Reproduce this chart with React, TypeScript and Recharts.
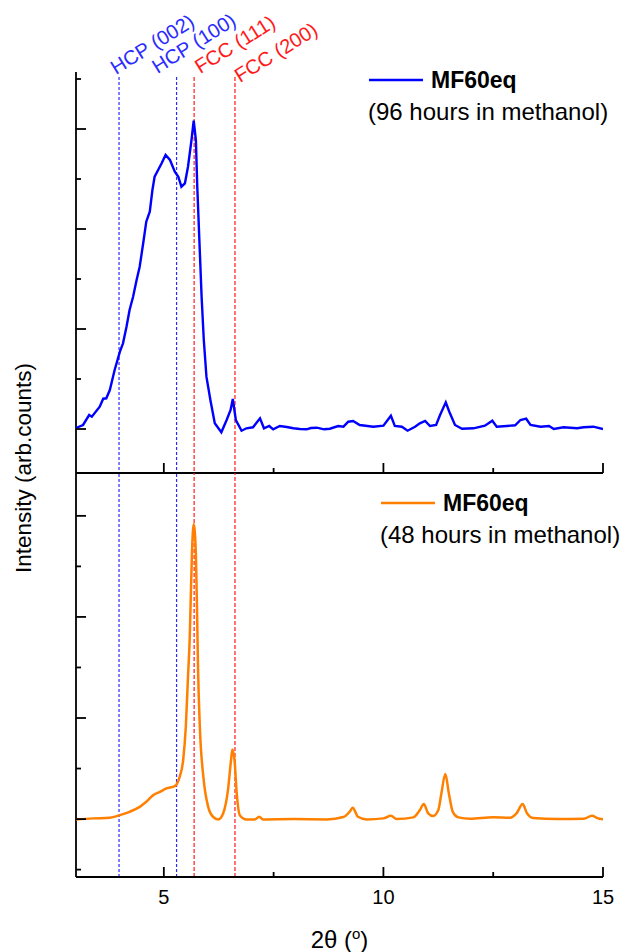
import React from 'react';
import { LineChart, Line, XAxis, YAxis, ReferenceLine, Legend } from 'recharts';

// 2θ positions and intensities, sample soaked 96 h
const angle96 = [
  3.0, 3.16, 3.3, 3.36, 3.54, 3.62, 3.69, 3.77, 3.88, 4.0, 4.07, 4.15, 4.22, 4.3, 4.38, 4.45,
  4.53, 4.6, 4.68, 4.74, 4.79, 4.87, 4.95, 5.04, 5.14, 5.25, 5.33, 5.4, 5.48, 5.55, 5.63, 5.68,
  5.73, 5.76, 5.8, 5.86, 5.91, 5.97, 6.06, 6.16, 6.31, 6.43, 6.52, 6.57, 6.64, 6.77, 6.88, 7.03,
  7.19, 7.28, 7.4, 7.49, 7.64, 7.8, 7.95, 8.1, 8.25, 8.35, 8.48, 8.65, 8.78, 8.97, 9.09, 9.2,
  9.31, 9.46, 9.77, 10.0, 10.17, 10.26, 10.42, 10.55, 10.72, 10.83, 10.95, 11.06, 11.2, 11.29,
  11.42, 11.5, 11.63, 11.79, 12.05, 12.31, 12.48, 12.58, 12.81, 13.0, 13.12, 13.25, 13.35, 13.58,
  13.77, 13.88, 14.1, 14.41, 14.56, 14.78, 15.0,
];
const counts96 = [
  1010, 1040, 1140, 1123, 1223, 1303, 1307, 1390, 1590, 1773, 1857, 2023, 2190, 2323, 2490, 2623,
  2857, 3073, 3173, 3390, 3523, 3590, 3657, 3740, 3690, 3573, 3523, 3423, 3457, 3623, 3890, 4083,
  3890, 3440, 2990, 2323, 1890, 1523, 1290, 1057, 967, 1090, 1190, 1300, 1090, 983, 1007, 1017,
  1107, 1007, 1030, 997, 1030, 1020, 1007, 1000, 997, 1010, 1013, 997, 1003, 1030, 1023, 1073,
  1080, 1040, 1023, 1033, 1133, 1030, 1023, 983, 1023, 1057, 1080, 1030, 1040, 1140,
  1267, 1173, 1040, 1003, 1007, 1033, 1083, 1023, 1030, 1037, 1090, 1103, 1040, 1023,
  1030, 1000, 1017, 1007, 1017, 1023, 1000,
];

// 2θ positions and intensities, sample soaked 48 h
const angle48 = [
  3.0, 3.39, 3.77, 4.0, 4.22, 4.45, 4.6, 4.76, 4.91, 5.06, 5.25, 5.36, 5.44, 5.5, 5.55, 5.59,
  5.61, 5.64, 5.68, 5.73, 5.76, 5.78, 5.82, 5.9, 6.01, 6.12, 6.24, 6.35, 6.46, 6.53, 6.56, 6.61,
  6.66, 6.73, 6.88, 7.07, 7.17, 7.26, 7.95, 8.71, 9.09, 9.23, 9.3, 9.42, 9.62, 10.0, 10.17, 10.3,
  10.68, 10.83, 10.92, 11.02, 11.13, 11.25, 11.32, 11.41, 11.49, 11.58, 11.71, 11.97, 12.5, 12.88,
  13.03, 13.17, 13.27, 13.41, 13.95, 14.56, 14.75, 14.87, 15.0,
];
const counts48 = [
  997, 1007, 1013, 1039, 1072, 1121, 1171, 1237, 1269, 1303, 1326, 1418, 1582, 1911, 2404, 2800,
  3132, 3625, 3918, 3625, 2964, 2471, 1911, 1418, 1121, 1023, 997, 1056, 1286, 1582, 1688, 1582,
  1254, 1039, 997, 997, 1023, 997, 1000, 997, 1020, 1072, 1112, 1023, 997, 1007, 1033, 1000,
  1017, 1089, 1148, 1056, 1030, 1089, 1254, 1447, 1254, 1072, 1017, 1003, 1017, 1013,
  1056, 1148, 1056, 1010, 1000, 1003, 1033, 1010, 997,
];

const sampleName = 'MF60eq';
const soakNotes = ['(96 hours in methanol)', '(48 hours in methanol)'];

const phaseNames = ['HCP (002)', 'HCP (100)', 'FCC (111)', 'FCC (200)'];
const phaseAngles = [3.98, 5.29, 5.69, 6.62];

const xTicks = [5, 7.5, 10, 12.5, 15];
const topTicks = [1000, 1500, 2000, 2500, 3000, 3500, 4000, 4500];
const bottomTicks = [500, 1000, 1500, 2000, 2500, 3000, 3500, 4000];

const FONT = '"Liberation Sans", Arial, Helvetica, sans-serif';
const phaseColors = ['#2b2bff', '#2b2bff', '#ff1a1a', '#ff1a1a'];
const phaseDash = ['3 2', '3 2', '4 2', '4 2'];
// where each rotated label starts, relative to the top of its guide line
const labelShift = [[-3, -2], [-19, -3], [6, -3], [5, 6]];

const data96 = angle96.map((a, i) => ({ angle: a, counts: counts96[i] }));
const data48 = angle48.map((a, i) => ({ angle: a, counts: counts48[i] }));

const XTick = (props: any) => {
  const { x, y, payload, showLabel } = props;
  const major = payload.value % 5 === 0;
  return (
    <g>
      <line x1={x} x2={x} y1={y} y2={y - (major ? 10 : 5)} stroke="#000" strokeWidth={1.8} />
      {showLabel && major && (
        <text x={x} y={y + 27} textAnchor="middle" fontSize={20} fontFamily={FONT} fill="#000">
          {payload.value}
        </text>
      )}
    </g>
  );
};

const YTick = (props: any) => {
  const { x, y, payload } = props;
  const major = payload.value % 1000 === 0;
  return <line x1={x} x2={x + (major ? 10 : 5)} y1={y} y2={y} stroke="#000" strokeWidth={1.8} />;
};

const legendBox = (note: string) => (props: any) => {
  const item = props.payload?.[0];
  return (
    <svg width={265} height={70} style={{ overflow: 'visible' }}>
      <line x1={4} x2={58} y1={20} y2={20} stroke={item?.color} strokeWidth={2.4} />
      <text x={66} y={28} fontSize={23} fontWeight="bold" fontFamily={FONT} fill="#000">
        {item?.value}
      </text>
      <text x={3} y={60} fontSize={24} fontFamily={FONT} fill="#000">
        {note}
      </text>
    </svg>
  );
};

const phaseLabel = (i: number) => (props: any) => {
  const vb = props.viewBox || {};
  const tx = vb.x + labelShift[i][0];
  const ty = vb.y + labelShift[i][1];
  return (
    <text
      x={tx}
      y={ty}
      transform={`rotate(-32 ${tx} ${ty})`}
      fontSize={20}
      fontFamily={FONT}
      fill={phaseColors[i]}
    >
      {phaseNames[i]}
    </text>
  );
};

const yTitle = () => (
  <text
    x={31}
    y={468}
    transform="rotate(-90 31 468)"
    textAnchor="middle"
    fontSize={22.5}
    fontFamily={FONT}
    fill="#000"
  >
    Intensity (arb.counts)
  </text>
);

const xTitle = (props: any) => {
  const vb = props.viewBox || {};
  const cx = vb.x + vb.width / 2;
  return (
    <text x={cx} y={vb.y + 71} textAnchor="middle" fontSize={24} fontFamily={FONT} fill="#000">
      <tspan>2θ (</tspan>
      <tspan dy={-9} fontSize={15}>o</tspan>
      <tspan dy={9}>)</tspan>
    </text>
  );
};

const axisLine = { stroke: '#000', strokeWidth: 1.8 };

export default function App() {
  return (
    <div style={{ position: 'absolute', left: 0, top: 0, width: 630, height: 952, background: '#fff' }}>
      <div style={{ position: 'absolute', left: 0, top: 0 }}>
        <LineChart width={630} height={480} data={data96} margin={{ top: 72, right: 27, bottom: 0, left: 0 }}>
          <XAxis
            dataKey="angle"
            type="number"
            domain={[3, 15]}
            ticks={xTicks}
            height={7}
            tickSize={0}
            tickMargin={0}
            tickLine={false}
            axisLine={axisLine}
            tick={(p: any) => <XTick {...p} />}
            allowDataOverflow
          />
          <YAxis
            type="number"
            domain={[560, 4570]}
            ticks={topTicks}
            width={76}
            tickSize={0}
            tickMargin={0}
            tickLine={false}
            axisLine={axisLine}
            tick={(p: any) => <YTick {...p} />}
            allowDataOverflow
          />
          {phaseAngles.map((a, i) => (
            <ReferenceLine
              key={phaseNames[i]}
              segment={[{ x: a, y: 4520 }, { x: a, y: 560 }]}
              stroke={phaseColors[i]}
              strokeWidth={1.2}
              strokeDasharray={phaseDash[i]}
              label={phaseLabel(i)}
            />
          ))}
          <Line
            type="linear"
            dataKey="counts"
            name={sampleName}
            stroke="#0000ff"
            strokeWidth={2.4}
            dot={false}
            zIndex={700}
            isAnimationActive={false}
          />
          <Legend
            layout="vertical"
            align="center"
            verticalAlign="middle"
            content={legendBox(soakNotes[0])}
            wrapperStyle={{ left: 365, top: 60, width: 265 }}
          />
        </LineChart>
      </div>
      <div style={{ position: 'absolute', left: 0, top: 0 }}>
        <LineChart width={630} height={952} data={data48} margin={{ top: 473, right: 27, bottom: 0, left: 0 }}>
          <XAxis
            dataKey="angle"
            type="number"
            domain={[3, 15]}
            ticks={xTicks}
            height={75}
            tickSize={0}
            tickMargin={0}
            tickLine={false}
            axisLine={axisLine}
            tick={(p: any) => <XTick {...p} showLabel />}
            label={xTitle}
            allowDataOverflow
          />
          <YAxis
            type="number"
            domain={[427, 4424]}
            ticks={bottomTicks}
            width={76}
            tickSize={0}
            tickMargin={0}
            tickLine={false}
            axisLine={axisLine}
            tick={(p: any) => <YTick {...p} />}
            label={yTitle}
            allowDataOverflow
          />
          {phaseAngles.map((a, i) => (
            <ReferenceLine
              key={phaseNames[i]}
              x={a}
              stroke={phaseColors[i]}
              strokeWidth={1.2}
              strokeDasharray={phaseDash[i]}
            />
          ))}
          <Line
            type="monotone"
            dataKey="counts"
            name={sampleName}
            stroke="#ff8000"
            strokeWidth={2.5}
            dot={false}
            zIndex={700}
            isAnimationActive={false}
          />
          <Legend
            layout="vertical"
            align="center"
            verticalAlign="middle"
            content={legendBox(soakNotes[1])}
            wrapperStyle={{ left: 377, top: 483, width: 265 }}
          />
        </LineChart>
      </div>
    </div>
  );
}
